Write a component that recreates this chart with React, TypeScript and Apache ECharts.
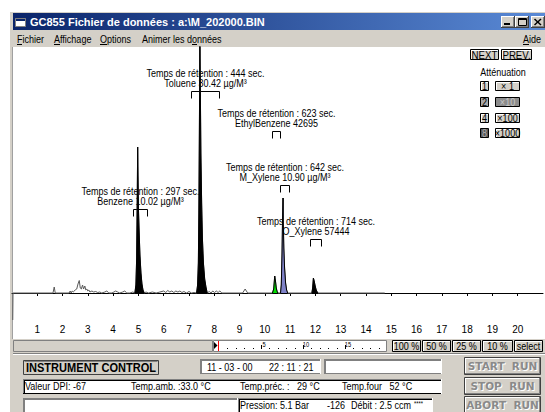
import React, { useEffect, useRef } from 'react';
import * as echarts from 'echarts';

// ---------------- DATA ----------------
// time in minutes, detector signal in mV
const chromatogram: [number, number][] = [
  [0.03, -27], [0.04, 0],
  [1.62, 0], [1.67, 6], [1.71, 0],
  [2.26, 0], [2.30, 2], [2.34, 0], [2.38, 2], [2.42, 1], [2.5, 3], [2.56, 4], [2.61, 9], [2.66, 12.5],
  [2.7, 5], [2.74, 4], [2.79, 8], [2.83, 4], [2.88, 7], [2.92, 3], [2.96, 4], [3.0, 2], [3.04, 3],
  [3.08, 1], [3.16, 2], [3.23, 1], [3.31, 1.5], [3.39, 0.5], [3.47, 1], [3.55, 0], [3.67, 1], [3.75, 2],
  [3.83, 0], [3.95, 0], [4.03, 1], [4.1, 2], [4.18, 1], [4.26, 0], [4.38, 1], [4.46, 2], [4.54, 0],
  [4.66, 0], [4.78, 1],
  // Benzene
  [4.86, 0], [4.9, 8], [4.93, 35], [4.955, 100], [4.97, 146], [4.985, 115], [5.0, 85], [5.03, 60],
  [5.06, 38], [5.1, 20], [5.14, 9], [5.18, 3], [5.23, 0],
  [5.3, 1], [5.4, 0], [5.55, 1], [5.7, 0], [5.85, 1], [6.0, 2], [6.08, 0.5], [6.16, 2.5], [6.24, 1],
  [6.32, 2], [6.4, 0.5], [6.48, 2], [6.56, 1], [6.64, 2], [6.72, 0.5], [6.8, 1.5], [6.9, 0], [7.0, 1.5],
  [7.1, 0], [7.2, 0.5],
  // Toluene
  [7.3, 0], [7.34, 8], [7.37, 30], [7.39, 80], [7.41, 160], [7.43, 250], [7.45, 200], [7.47, 140],
  [7.5, 90], [7.53, 55], [7.57, 30], [7.62, 14], [7.67, 6], [7.72, 0],
  [7.8, 1.5], [7.87, 0], [7.94, 2], [8.01, 0.5], [8.08, 2], [8.15, 0.5], [8.22, 2], [8.3, 0], [8.5, 0],
  [9.12, 0], [9.22, 4], [9.32, 0],
  // EthylBenzene
  [10.3, 0], [10.35, 4], [10.39, 17], [10.42, 12], [10.45, 5], [10.49, 1], [10.52, 0],
  // M_Xylene
  [10.62, 0], [10.65, 8], [10.68, 40], [10.7, 75], [10.72, 95], [10.73, 70], [10.75, 45], [10.78, 25],
  [10.82, 10], [10.86, 3], [10.9, 0],
  // O_Xylene
  [11.86, 0], [11.89, 5], [11.92, 15], [11.95, 12], [11.99, 7], [12.03, 3], [12.07, 1], [12.1, 0],
  [14.74, 0],
];

const peakNames = ['Benzene', 'Toluene', 'EthylBenzene', 'M_Xylene', 'O_Xylene'];
const retentionSec = [297, 444, 623, 642, 714];
const peakResult = ['10.02 µg/M³', '30.42 µg/M³', '42695', '10.90 µg/M³', '57444'];
const fillStart = [4.86, 7.3, 10.3, 10.62, 11.86];
const fillEnd = [5.23, 7.72, 10.52, 10.9, 12.1];
const windowStart = [4.78, 7.06, 10.27, 10.59, 11.78];
const windowEnd = [5.33, 8.17, 10.59, 10.95, 12.24];

// ---------------- LAYOUT / STYLE ----------------
const labelLevel = [84, 202, 162, 108, 54];
const peakFill = ['#000000', '#000000', '#00e000', '#7f82c8', '#000000'];

const SANS = '"Liberation Sans", Arial, sans-serif';
const NARROW_FONT = `11px ${SANS}`;
const SQUEEZE = 0.82;
const GRAY = '#d4d0c8';

type El = Record<string, unknown>;
const R = (x: number, y: number, w: number, h: number, fill: unknown, stroke = 'none'): El => ({
  type: 'rect', silent: true, shape: { x, y, width: w, height: h }, style: { fill, stroke, lineWidth: 1 },
});
const L = (x1: number, y1: number, x2: number, y2: number, stroke: string, lw = 1): El => ({
  type: 'line', silent: true, shape: { x1, y1, x2, y2 }, style: { stroke, lineWidth: lw },
});
const T = (x: number, y: number, text: string, font = NARROW_FONT, fill = '#000', align = 'left', sx = SQUEEZE): El => ({
  type: 'text', silent: true, x, y, scaleX: sx, style: { text, font, fill, align, verticalAlign: 'middle' },
});

function outlined(x: number, y: number, w: number, h: number, label: string, face = GRAY, color = '#000', hi = true, sx = SQUEEZE): El[] {
  const els: El[] = [R(x + 0.5, y + 0.5, w - 1, h - 1, face, '#000')];
  if (hi) {
    els.push(L(x + 1, y + 1.5, x + w - 1, y + 1.5, '#ffffff'));
    els.push(L(x + 1.5, y + 1, x + 1.5, y + h - 1, '#ffffff'));
  }
  els.push(T(x + w / 2, y + h / 2 + 0.5, label, NARROW_FONT, color, 'center', sx));
  return els;
}

function raised(x: number, y: number, w: number, h: number): El[] {
  return [
    R(x, y, w, h, GRAY),
    L(x, y + 0.5, x + w, y + 0.5, '#ffffff'), L(x + 0.5, y, x + 0.5, y + h, '#ffffff'),
    L(x, y + h - 0.5, x + w, y + h - 0.5, '#404040'), L(x + w - 0.5, y, x + w - 0.5, y + h, '#404040'),
    L(x + 1, y + h - 1.5, x + w - 1, y + h - 1.5, '#808080'), L(x + w - 1.5, y + 1, x + w - 1.5, y + h - 1, '#808080'),
  ];
}

function sunken(x: number, y: number, w: number, h: number, inner = '#404040'): El[] {
  return [
    R(x, y, w, h, '#ffffff'),
    L(x, y + 0.5, x + w, y + 0.5, '#808080'), L(x + 0.5, y, x + 0.5, y + h, '#808080'),
    L(x + 1, y + 1.5, x + w - 1, y + 1.5, inner), L(x + 1.5, y + 1, x + 1.5, y + h - 1, inner),
    L(x, y + h - 0.5, x + w, y + h - 0.5, inner), L(x + w - 0.5, y, x + w - 0.5, y + h, '#ffffff'),
  ];
}

function runButton(y: number, label: string): El[] {
  const x = 464, w = 77, h = 18;
  const f = `bold 10.5px "DejaVu Sans", ${SANS}`;
  return [
    R(x + 0.5, y + 0.5, w - 1, h - 1, GRAY, '#404040'),
    L(x + 1, y + 1.5, x + w - 1, y + 1.5, '#ffffff'), L(x + 1.5, y + 1, x + 1.5, y + h - 1, '#ffffff'),
    L(x + 1, y + h - 1.5, x + w - 1, y + h - 1.5, '#808080'), L(x + w - 1.5, y + 1, x + w - 1.5, y + h - 1, '#808080'),
    T(x + w / 2 + 1, y + h / 2 + 1, label, f, '#ffffff', 'center', 1),
    T(x + w / 2, y + h / 2, label, f, '#8a8a8a', 'center', 1),
  ];
}

function buildGraphics(): El[] {
  const g: El[] = [];
  // window frame
  g.push(R(10, 12, 535, 400, GRAY));
  // title bar
  g.push(R(13, 13, 532, 17, {
    type: 'linear', x: 0, y: 0, x2: 1, y2: 0,
    colorStops: [{ offset: 0, color: '#0a246a' }, { offset: 1, color: '#5a8ad6' }],
  }));
  g.push(R(15.5, 18.5, 10, 8, '#ffffff', '#808080'));
  g.push(R(16, 19, 9, 2, '#0a246a'));
  g.push(T(30, 22, 'GC855 Fichier de données : a:\\M_202000.BIN', `bold 11px ${SANS}`, '#ffffff', 'left', 1));
  // title buttons
  g.push(...raised(501, 16, 14, 12));
  g.push(R(504, 23, 6, 2, '#000'));
  g.push(...raised(515, 16, 14, 12));
  g.push(R(518.5, 18.5, 8, 7, 'none', '#000'));
  g.push(L(518, 19.5, 527, 19.5, '#000'));
  g.push(...raised(531, 16, 14, 12));
  g.push(L(534.5, 19, 541, 25, '#000', 1.5));
  g.push(L(541, 19, 534.5, 25, '#000', 1.5));
  // menu bar
  g.push(T(17, 39, 'Fichier'));
  g.push(T(54, 39, 'Affichage'));
  g.push(T(100, 39, 'Options'));
  g.push(T(142, 39, 'Animer les données'));
  g.push(T(541, 39, 'Aide', NARROW_FONT, '#000', 'right'));
  g.push(L(17, 44.5, 22, 44.5, '#000'));
  g.push(L(54, 44.5, 60, 44.5, '#000'));
  g.push(L(100, 44.5, 107, 44.5, '#000'));
  g.push(L(192, 44.5, 197, 44.5, '#000'));
  g.push(L(523, 44.5, 529, 44.5, '#000'));
  // client area
  g.push(R(13, 47, 532, 292, '#ffffff'));
  g.push(L(12.5, 47, 12.5, 339, '#a0a0a0'));
  // right panel
  g.push(...outlined(470, 49, 29, 11, 'NEXT', GRAY, '#000', true, 0.88));
  g.push(...outlined(501, 49, 31, 11, 'PREV.', GRAY, '#000', true, 0.88));
  g.push(T(503, 72, 'Atténuation', NARROW_FONT, '#000', 'center'));
  const rows = [81, 97, 113, 128];
  const nums = ['1', '2', '4', '8'];
  const mult = ['× 1', '×10', '×100', '×1000'];
  rows.forEach((y, i) => {
    if (i === 1) g.push(...outlined(480, y, 9, 10, nums[i], '#a8a8a8', '#000', false));
    else if (i === 3) g.push(...outlined(480, y, 9, 10, nums[i], '#585858', '#b0b0b0', false));
    else g.push(...outlined(480, y, 9, 10, nums[i]));
    if (i === 1) g.push(...outlined(495, y, 25, 10, mult[i], '#8c8c8c', '#c8c8c8', false));
    else g.push(...outlined(495, y, 25, 10, mult[i]));
  });
  // scroll row
  g.push(R(13.5, 340.5, 199, 11, GRAY, '#808080'));
  g.push(R(213.5, 340.5, 173, 11, '#ffffff', '#808080'));
  g.push({ type: 'polygon', silent: true, shape: { points: [[214, 342], [214, 349], [217.5, 345.5]] }, style: { fill: '#000' } });
  g.push(L(218.5, 341, 218.5, 351, '#ff0000'));
  for (let k = 1; k <= 19; k++) {
    const x = Math.round(219 + k * 8.4);
    g.push(R(x, 348, 1, 1, '#000'));
    if (k % 5 === 0) {
      g.push(L(x + 0.5, 345, x + 0.5, 349, '#000'));
      g.push(T(x + 3, 344.5, String(k), `7px ${SANS}`, '#000', 'center'));
    }
  }
  const zoomBtns: [number, number, string][] = [[392, 29, '100 %'], [422, 29, '50 %'], [452, 29, '25 %'], [482, 31, '10 %'], [514, 29, 'select']];
  zoomBtns.forEach(([x, w, s]) => g.push(...outlined(x, 340, w, 12, s)));
  // bottom panel
  g.push(L(13, 353.5, 545, 353.5, '#808080'));
  g.push(L(13, 354.5, 545, 354.5, '#ffffff'));
  g.push(R(23.5, 360.5, 135, 14, GRAY, '#404040'));
  g.push(L(24.5, 361.5, 157.5, 361.5, '#808080'));
  g.push(T(91, 368, 'INSTRUMENT CONTROL', `bold 13.5px ${SANS}`, '#000', 'center'));
  g.push(...sunken(200, 359, 121, 15, '#808080'));
  g.push(T(207, 367, '11 - 03 - 00'));
  g.push(T(269, 367, '22 : 11 : 21'));
  g.push(...sunken(324, 359, 118, 15, '#808080'));
  g.push(...sunken(23, 379, 419, 15, '#000'));
  g.push(T(25, 386.5, 'Valeur DPI: -67'));
  g.push(T(131, 386.5, 'Temp.amb. :33.0 °C'));
  g.push(T(240, 386.5, 'Temp.préc. :   29 °C'));
  g.push(T(342, 386.5, 'Temp.four   52 °C'));
  g.push(...sunken(23, 398, 215, 16, '#808080'));
  g.push(...sunken(238, 398, 195, 16, '#000'));
  g.push(T(240, 405.5, 'Pression: 5.1 Bar'));
  g.push(T(327, 405.5, '-126'));
  g.push(T(351, 405.5, 'Débit : 2.5 ccm'));
  g.push(T(414, 403.5, '****', `7px ${SANS}`));
  g.push(...runButton(357, 'START  RUN'));
  g.push(...runButton(377, 'STOP  RUN'));
  g.push(...runButton(396, 'ABORT  RUN'));
  return g;
}

function buildOption() {
  const peakSeries = peakNames.map((name, i) => ({
    name,
    type: 'line',
    z: 12,
    symbol: 'none',
    silent: true,
    data: chromatogram.filter((p) => p[0] >= fillStart[i] && p[0] <= fillEnd[i]),
    lineStyle: { color: '#000000', width: 1 },
    areaStyle: { color: peakFill[i], opacity: 1 },
  }));
  const annotations = peakNames.map((_, i) => [windowStart[i], windowEnd[i], labelLevel[i], i]);
  return {
    animation: false,
    backgroundColor: '#ffffff',
    grid: { left: 12, right: 2, top: 47, bottom: 92, containLabel: false },
    xAxis: {
      type: 'value', min: 0, max: 21, interval: 1, z: 10,
      axisLine: { lineStyle: { color: '#000', width: 1 } },
      axisTick: { show: true, length: 3, lineStyle: { color: '#000' } },
      axisLabel: { color: '#000', fontSize: 10, fontFamily: SANS, margin: 4, showMinLabel: false, showMaxLabel: false },
      splitLine: { show: false },
    },
    yAxis: { type: 'value', min: -27, max: 246, show: false },
    graphic: { elements: buildGraphics() },
    series: [
      {
        type: 'custom',
        z: 10,
        silent: true,
        data: annotations,
        encode: { x: [0, 1], y: 2 },
        renderItem: (_params: unknown, api: any) => {
          const i = api.value(3);
          const a = api.coord([api.value(0), api.value(2)]);
          const b = api.coord([api.value(1), api.value(2)]);
          const x1 = Math.round(a[0]) + 0.5;
          const x2 = Math.round(b[0]) + 0.5;
          const y = Math.round(a[1]) + 0.5;
          const cx = (x1 + x2) / 2;
          return {
            type: 'group',
            children: [
              { type: 'polyline', shape: { points: [[x1, y + 7], [x1, y], [x2, y], [x2, y + 7]] }, style: { stroke: '#000', fill: 'none', lineWidth: 1 } },
              { type: 'text', x: cx, y: y - 18, scaleX: SQUEEZE, style: { text: `Temps de rétention : ${retentionSec[i]} sec.`, font: NARROW_FONT, fill: '#000', align: 'center', verticalAlign: 'middle' } },
              { type: 'text', x: cx, y: y - 8, scaleX: SQUEEZE, style: { text: `${peakNames[i]} ${peakResult[i]}`, font: NARROW_FONT, fill: '#000', align: 'center', verticalAlign: 'middle' } },
            ],
          };
        },
      },
      {
        name: 'Signal',
        type: 'line',
        z: 11,
        symbol: 'none',
        silent: true,
        data: chromatogram,
        lineStyle: { color: '#5a5a5a', width: 1 },
      },
      ...peakSeries,
    ],
  };
}

export default function App() {
  const ref = useRef<HTMLDivElement>(null);
  useEffect(() => {
    document.body.style.margin = '0';
    const chart = echarts.init(ref.current!, undefined, { renderer: 'svg', width: 545, height: 412 });
    chart.setOption(buildOption() as any);
    return () => chart.dispose();
  }, []);
  return <div ref={ref} style={{ width: 545, height: 412, position: 'fixed', left: 0, top: 0, background: '#fff' }} />;
}
